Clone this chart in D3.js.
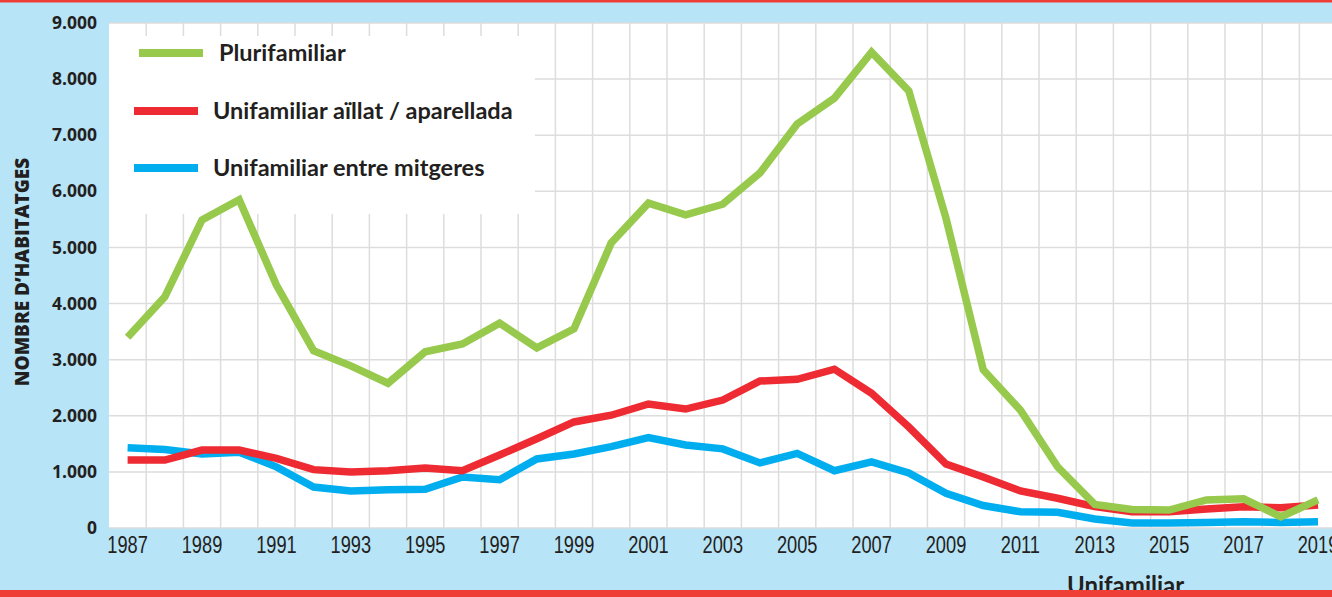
<!DOCTYPE html>
<html>
<head>
<meta charset="utf-8">
<script src="https://cdn.jsdelivr.net/npm/d3@7"></script>
<style>
  body { margin: 0; background: #b8e4f8; overflow: hidden; }
  svg { display: block; }
</style>
</head>
<body>
<script>
var years = d3.range(1987, 2020);
var plurifamiliar = [3400, 4120, 5490, 5850, 4330, 3160, 2890, 2580, 3140, 3280,
  3650, 3210, 3550, 5080, 5790, 5580, 5770, 6330, 7200, 7660,
  8480, 7790, 5520, 2820, 2100, 1090, 420, 330, 320, 500,
  520, 200, 500];
var aillat = [1210, 1210, 1390, 1390, 1240, 1040, 1000, 1020, 1070, 1020,
  1300, 1590, 1890, 2010, 2210, 2120, 2280, 2620, 2650, 2830,
  2400, 1800, 1140, 910, 660, 530, 380, 290, 290, 340,
  380, 360, 410];
var mitgeres = [1430, 1400, 1320, 1350, 1090, 730, 660, 680, 690, 910,
  860, 1230, 1320, 1450, 1610, 1480, 1410, 1160, 1330, 1020,
  1180, 980, 620, 400, 290, 280, 160, 90, 90, 100,
  110, 100, 110];
var yTicks = [0, 1000, 2000, 3000, 4000, 5000, 6000, 7000, 8000, 9000];
var seriesNames = ["Plurifamiliar", "Unifamiliar aïllat / aparellada", "Unifamiliar entre mitgeres"];
var seriesColors = ["#97c94c", "#ee2a32", "#00aeef"];

var W = 1332, H = 597;
var margin = { top: 23, left: 109, bottom: 69 },
    plotW = 37.2 * years.length,
    plotH = H - margin.top - margin.bottom;

var svg = d3.select("body").append("svg")
    .attr("width", W)
    .attr("height", H);

svg.append("rect").attr("width", W).attr("height", H).attr("fill", "#b8e4f8");

var g = svg.append("g")
    .attr("transform", "translate(" + margin.left + "," + margin.top + ")");

var xScale = d3.scaleBand().domain(years).range([0, plotW]);
var yScale = d3.scaleLinear().domain([0, 9000]).range([plotH, 0]);

g.append("rect").attr("width", plotW).attr("height", plotH).attr("fill", "#fff");

// grid
g.append("g").selectAll("line")
    .data(years.slice(1))
    .join("line")
    .attr("x1", function (d) { return xScale(d); })
    .attr("x2", function (d) { return xScale(d); })
    .attr("y1", 0).attr("y2", plotH)
    .attr("stroke", "#dddddd").attr("stroke-width", 1.5);

g.append("g").selectAll("line")
    .data(yTicks)
    .join("line")
    .attr("x1", 0).attr("x2", plotW)
    .attr("y1", function (d) { return yScale(d); })
    .attr("y2", function (d) { return yScale(d); })
    .attr("stroke", "#dddddd").attr("stroke-width", 1.5);

// y axis labels
var fmt = function (d) { return d === 0 ? "0" : d3.format(",")(d).replace(",", "."); };
var yAxis = d3.axisLeft(yScale).tickValues(yTicks).tickFormat(fmt).tickSize(0).tickPadding(12);
var yG = g.append("g").call(yAxis);
yG.select(".domain").remove();
yG.selectAll("text")
    .attr("font-family", "'Open Sans', sans-serif")
    .attr("font-weight", 700)
    .attr("font-size", 17.5)
    .attr("fill", "#231f20");

// x axis labels (condensed look)
var xAxis = d3.axisBottom(xScale)
    .tickValues(years.filter(function (d) { return (d - 1987) % 2 === 0; }))
    .tickSize(0).tickPadding(8);
var xG = g.append("g").attr("transform", "translate(0," + plotH + ")").call(xAxis);
xG.select(".domain").remove();
xG.selectAll("text")
    .attr("font-family", "'Liberation Sans', sans-serif")
    .attr("font-size", 24)
    .attr("transform", "scale(0.76,1)")
    .attr("fill", "#231f20");

// legend box
g.append("rect")
    .attr("x", 0).attr("y", 13)
    .attr("width", 426).attr("height", 178)
    .attr("fill", "#fff");

// lines
var allSeries = [plurifamiliar, aillat, mitgeres];
var line = d3.line()
    .x(function (d, i) { return xScale(years[i]) + xScale.bandwidth() / 2; })
    .y(function (d) { return yScale(d); });

[2, 1, 0].forEach(function (k) {
  g.append("path")
      .datum(allSeries[k])
      .attr("d", line)
      .attr("fill", "none")
      .attr("stroke", seriesColors[k])
      .attr("stroke-width", 7.5)
      .attr("stroke-linejoin", "miter");
});

// legend
var legendY = [30, 88, 145];
var legendX = [[30, 94, 110], [25, 89, 104], [25, 89, 104]];
seriesNames.forEach(function (name, i) {
  g.append("line")
      .attr("x1", legendX[i][0]).attr("x2", legendX[i][1])
      .attr("y1", legendY[i]).attr("y2", legendY[i])
      .attr("stroke", seriesColors[i]).attr("stroke-width", 8);
  g.append("text")
      .attr("x", legendX[i][2]).attr("y", legendY[i] + 8)
      .attr("font-family", "Lato, sans-serif")
      .attr("font-weight", 700)
      .attr("font-size", 23.5)
      .attr("fill", "#231f20")
      .text(name);
});

// axis title
svg.append("text")
    .attr("transform", "translate(29,272) rotate(-90)")
    .attr("text-anchor", "middle")
    .attr("font-family", "'Open Sans', sans-serif")
    .attr("font-weight", 800)
    .attr("font-size", 19)
    .attr("fill", "#231f20")
    .text("NOMBRE D’HABITATGES");

svg.append("text")
    .attr("x", 1067).attr("y", 594)
    .attr("font-family", "Lato, sans-serif")
    .attr("font-weight", 700)
    .attr("font-size", 24)
    .attr("fill", "#231f20")
    .text("Unifamiliar");

// red rules
svg.append("rect").attr("x", 0).attr("y", 0).attr("width", W).attr("height", 2.5).attr("fill", "#ef3e36");
svg.append("rect").attr("x", 0).attr("y", 590).attr("width", W).attr("height", 7).attr("fill", "#ef3e36");
</script>
</body>
</html>
